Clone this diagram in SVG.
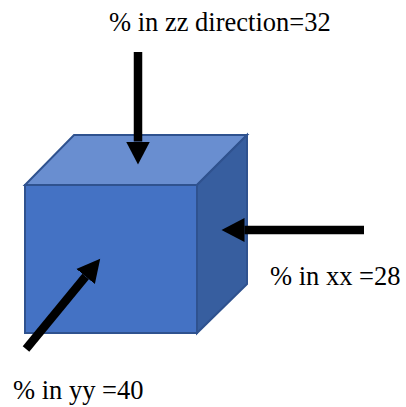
<svg xmlns="http://www.w3.org/2000/svg" width="406" height="407" viewBox="0 0 406 407">
<style>
.t{font-family:"Liberation Serif","Times New Roman",serif;font-size:26.5px;fill:#000}
.e{stroke:#2F528F;stroke-width:2;stroke-linejoin:miter}
.a{stroke:#000;stroke-width:8.5;fill:none}
</style>
<defs>
<marker id="h" markerUnits="userSpaceOnUse" markerWidth="26" markerHeight="26" refX="0" refY="12" orient="auto" viewBox="0 0 26 24">
<path d="M0,0 L23,12 L0,24 Z" fill="#000"/>
</marker>
</defs>
<rect width="406" height="407" fill="#fff"/>
<g id="cube">
<polygon class="e" points="25,185 74,135 247,135 197,185" fill="#698ED0"/>
<polygon class="e" points="197,185 247,135 247,284 197,333" fill="#375E9F"/>
<rect class="e" x="25" y="185" width="172" height="148" fill="#4472C4"/>
</g>
<g id="connectors">
<line class="a" x1="138" y1="52" x2="138" y2="141.5" marker-end="url(#h)"/>
<line class="a" x1="364" y1="230" x2="244.5" y2="230" marker-end="url(#h)"/>
<line class="a" x1="26" y1="349" x2="85.6" y2="276.5" marker-end="url(#h)"/>
</g>
<g id="labels">
<text class="t" x="109" y="31">% in zz direction=32</text>
<text class="t" x="270" y="285">% in xx =28</text>
<text class="t" x="13" y="399">% in yy =40</text>
</g>
</svg>
